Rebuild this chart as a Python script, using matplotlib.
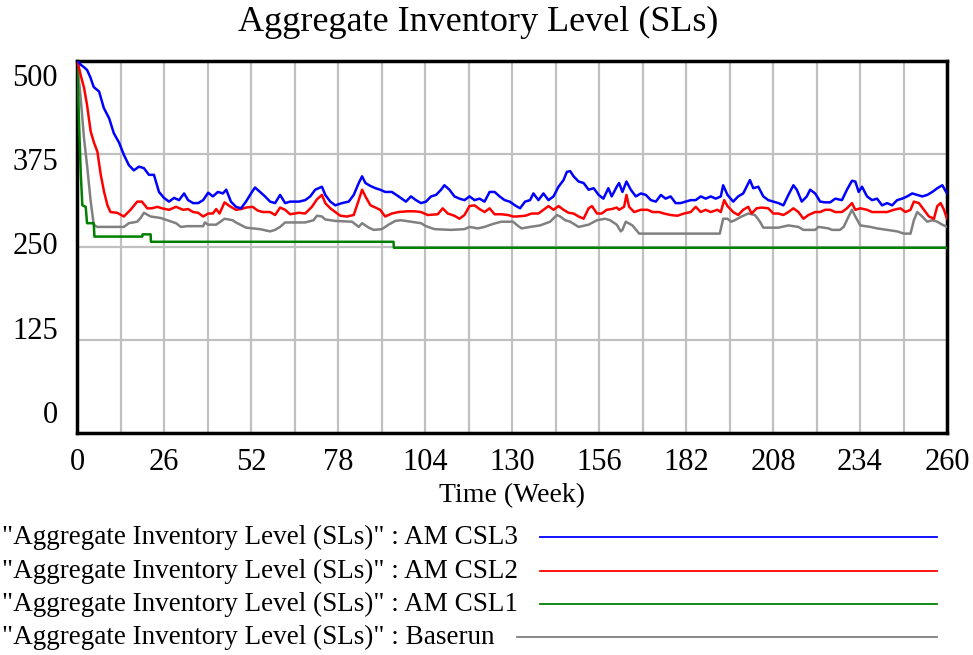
import matplotlib.pyplot as plt
from matplotlib.lines import Line2D

plt.rcParams['font.family'] = ['Liberation Serif', 'DejaVu Serif']

# AM CSL3 (blue)
weeks_csl3 = [0, 1.1, 2, 3, 4, 5, 6.6, 8, 9.6, 11, 12.6, 14, 15.5, 17, 18.5, 20, 21.5, 23, 24.5, 26,
              27.5, 29, 30.5, 32, 33.2, 34.7, 36.2, 37.7, 39.2, 40.6, 42.1, 43.6, 44.6, 46, 47.5, 49,
              50.5, 52, 53.2, 54.7, 56.2, 57.7, 59.2, 60.7, 62.2, 63.7, 66.3, 68.2, 69.7, 71.2, 72.2,
              73.2, 74.2, 75.7, 77.2, 79.2, 81.2, 82.7, 84.2, 85.2, 86.2, 87.7, 89.2, 90.6, 92.1, 94.1,
              96.1, 98.3, 99.8, 101.3, 102.8, 104.3, 105.8, 107.3, 108.8, 109.8, 111.3, 112.8, 114.3,
              115.8, 117.3, 118.8, 120.3, 121.8, 123.3, 124.8, 126.3, 127.8, 129.3, 130.9, 132.4, 133.9,
              135.4, 136.4, 137.9, 139.4, 140.9, 142.4, 143.9, 145.4, 146.4, 147.4, 148.4, 149.9, 151.4,
              152.9, 154.4, 155.9, 157.3, 158.8, 159.8, 161.3, 162, 163, 164.2, 165.5, 167, 168.5, 170,
              171.5, 173, 174.5, 175.9, 177.4, 178.9, 180.4, 181.9, 183.4, 184.9, 186.4, 187.9, 189.4,
              190.9, 192.4, 193.1, 194.4, 196.1, 197.6, 199.1, 200.1, 201.1, 202.1, 203.6, 205.1, 206.6,
              208.1, 209.6, 211.1, 212.6, 214.1, 215.1, 216.6, 218.1, 219.1, 220.6, 222.1, 223.6, 225.1,
              226.6, 228.6, 230.1, 231.6, 232.6, 233.6, 234.6, 236.1, 237.6, 239.1, 240.6, 242.1, 243.6,
              245.1, 246.6, 248.1, 249.6, 251.1, 252.6, 254.1, 255.6, 257.1, 258.6, 260]
inv_csl3 = [502, 495, 492, 488, 478, 465, 459, 437, 423, 403, 390, 374, 360, 353, 358, 356, 347, 347, 324, 316,
            311, 316, 313, 322, 313, 309, 309, 313, 323, 318, 324, 322, 327, 311, 304, 302,
            311, 322, 330, 324, 318, 311, 309, 320, 309, 311, 311, 313, 318, 327, 329,
            331, 320, 311, 306, 309, 311, 320, 336, 345, 336, 332, 329, 327, 324, 324,
            318, 311, 318, 313, 309, 311, 318, 320, 327, 333, 327, 318, 315,
            313, 318, 313, 315, 311, 324, 324, 318, 313, 311, 306, 302, 311,
            313, 322, 313, 322, 313, 318, 331, 340, 351, 352, 345, 338, 336,
            327, 329, 320, 315, 329, 318, 331, 336, 324, 338, 327, 318, 322, 320,
            313, 311, 320, 315, 318, 309, 309, 311, 313, 313, 318, 315, 318,
            315, 318, 333, 320, 311, 318, 322, 331, 340, 329, 331, 318, 313,
            311, 309, 306, 320, 333, 327, 311, 318, 327, 322, 311, 310, 310,
            315, 313, 327, 339, 338, 324, 331, 318, 313, 315, 306, 309, 306,
            313, 315, 318, 322, 320, 318, 320, 324, 329, 333, 322]

# AM CSL2 (red)
weeks_csl2 = [0, 1.1, 2.1, 3, 4.1, 5.1, 6.1, 7.1, 8.1, 9.1, 10, 12, 14, 16, 18, 19.4, 21, 22.4, 24, 25.4,
              27.5, 29.6, 31.7, 33.2, 34.7, 36.2, 37.7, 39.2, 40.6, 41.6, 42.6, 44.1, 45.6, 47.5, 49,
              50.5, 52.5, 54, 55.5, 57.7, 59.2, 60.7, 62.2, 63.7, 66.3, 68.2, 70.2, 71.7, 73.2, 74.2,
              75.7, 77.2, 78.7, 80.7, 82.7, 84.2, 85.2, 86.2, 87.7, 89.2, 90.6, 92.1, 94.1, 96.1, 98.8,
              100.8, 102.8, 104.8, 107.8, 109.3, 110.8, 112.8, 114.3, 115.8, 117.3, 118.8, 120.3, 121.8,
              123.3, 124.8, 126.8, 128.8, 130.3, 131.4, 133.9, 135.9, 137.9, 139.4, 140.9, 142.4, 143.9,
              145.4, 146.9, 148.4, 149.9, 151.4, 152.9, 153.9, 155.4, 156.8, 158.3, 159.8, 161.3, 162,
              163.5, 164.2, 165, 166.5, 168.5, 170.5, 172, 174, 175.4, 177.4, 179.4, 181.4, 183.4, 184.9,
              186.4, 187.9, 189.4, 191.4, 192.4, 193.4, 194.4, 196.1, 197.6, 199.1, 200.6, 201.6, 203.1,
              204.6, 206.6, 208.1, 209.6, 211.1, 212.6, 214.1, 215.6, 217.1, 218.6, 220.6, 222.1, 223.6,
              225.1, 226.6, 228.6, 230.1, 231.6, 232.6, 234.1, 236.1, 237.6, 240.1, 242.1, 244.1, 246.1,
              247.6, 249.1, 250.1, 251.6, 253.1, 254.6, 256.1, 257.1, 258.1, 259.1, 260]
inv_csl2 = [502, 481, 464, 441, 405, 390, 378, 347, 324, 306, 297, 296, 291, 300, 311, 311, 302, 302, 304, 302,
            300, 304, 300, 301, 297, 296, 291, 295, 295, 301, 295, 310, 305, 300, 301,
            303, 304, 299, 297, 297, 293, 303, 300, 294, 296, 295, 304, 314, 320, 309,
            302, 297, 292, 291, 293, 313, 327, 318, 306, 303, 300, 291, 295, 297, 298,
            298, 297, 293, 294, 302, 295, 292, 288, 293, 305, 306, 301, 297,
            302, 294, 294, 293, 291, 291, 292, 295, 295, 300, 305, 300, 305,
            300, 296, 295, 291, 288, 302, 305, 295, 295, 300, 301, 303, 300,
            304, 320, 304, 297, 300, 300, 297, 297, 295, 293, 292, 295, 297, 304,
            297, 300, 297, 300, 297, 313, 305, 297, 293, 300, 304, 295, 302,
            303, 302, 295, 295, 293, 297, 302, 297, 288, 293, 297, 297, 300,
            300, 297, 297, 302, 309, 300, 302, 300, 297, 297, 297, 300, 302,
            297, 300, 311, 309, 300, 291, 288, 305, 309, 300, 288]

# AM CSL1 (green)
weeks_csl1 = [0, 0.6, 1.1, 1.6, 2.6, 3, 5, 5.2, 19.5, 19.6, 22, 22.1, 94.6, 94.7, 260]
inv_csl1 = [502, 418, 351, 306, 304, 282, 282, 264, 264, 267, 267, 257, 257, 249, 249]

# Baserun (gray)
weeks_base = [0, 1.1, 2.1, 3, 4.1, 5, 6, 14, 15.5, 18, 19, 20, 22, 25, 29.6, 31, 33, 37.7, 38.2, 39.2,
              41.6, 44.1, 46.5, 47.5, 50.5, 54.7, 57.7, 59.2, 60.7, 62.2, 66.3, 68.2, 70.7, 71.7, 73.2,
              74.2, 77.2, 82.2, 84.2, 85.2, 87.2, 88.7, 91.1, 93.1, 95.1, 96.8, 99.8, 102.8, 104.3, 106.8,
              111.8, 115.8, 117.3, 119.8, 121.8, 124.3, 126.8, 130.3, 131.9, 132.9, 135.4, 138.4, 141.4,
              143.4, 144.4, 145.9, 147.4, 149.9, 152.9, 155.4, 157.8, 159.3, 161.3, 162.5, 163, 164, 166,
              168, 192.1, 193.1, 194.4, 195.5, 196.6, 198.6, 200.6, 202.6, 204.1, 205.1, 209.6, 212.6,
              215.6, 217.1, 220.6, 221.6, 224.6, 225.6, 228, 229.1, 230.6, 231.6, 232.6, 234.1, 237.1,
              239.1, 242.1, 245.1, 247.1, 249.1, 250.1, 251.1, 252.6, 254.1, 255.6, 257.1, 258.6, 260]
inv_base = [500, 450, 396, 360, 311, 280, 277, 277, 282, 284, 289, 296, 291, 289, 282, 277, 278, 278, 283, 280,
            280, 288, 286, 283, 276, 274, 271, 273, 277, 283, 283, 283, 286, 292, 291,
            287, 285, 284, 277, 282, 276, 273, 274, 280, 285, 286, 284, 282, 278, 274,
            273, 274, 277, 275, 277, 281, 284, 284, 278, 275, 277, 279, 284,
            293, 291, 286, 284, 277, 280, 286, 288, 286, 280, 271, 273, 284, 279,
            268, 268, 288, 288, 284, 286, 291, 295, 293, 284, 276, 276, 279,
            277, 273, 273, 277, 275, 273, 273, 277, 291, 300, 291, 279, 277,
            275, 273, 271, 268, 268, 286, 297, 291, 284, 286, 284, 280, 277]

series_labels = ['"Aggregate Inventory Level (SLs)" : AM CSL3',
                 '"Aggregate Inventory Level (SLs)" : AM CSL2',
                 '"Aggregate Inventory Level (SLs)" : AM CSL1',
                 '"Aggregate Inventory Level (SLs)" : Baserun']
series_colors = ['#0000ff', '#ff0000', '#008000', '#808080']

x_ticks = [0, 26, 52, 78, 104, 130, 156, 182, 208, 234, 260]
y_ticks = [0, 125, 250, 375, 500]

fig = plt.figure(figsize=(9.73, 6.55), dpi=100)
ax = fig.add_axes([77 / 973, 1 - 433 / 655, 870 / 973, 372 / 655])

ax.plot(weeks_base, inv_base, color=series_colors[3], lw=1.8, zorder=3)
ax.plot(weeks_csl1, inv_csl1, color=series_colors[2], lw=1.8, zorder=4)
ax.plot(weeks_csl2, inv_csl2, color=series_colors[1], lw=1.8, zorder=5)
ax.plot(weeks_csl3, inv_csl3, color=series_colors[0], lw=1.8, zorder=6)

ax.set_xlim(0, 260)
ax.set_ylim(0, 500)
ax.set_xticks(range(0, 261, 13))
ax.set_yticks(y_ticks)
ax.grid(True, color='#c0c0c0', lw=1.6)
ax.set_axisbelow(True)
ax.tick_params(length=0, labelleft=False, labelbottom=False)
for sp in ax.spines.values():
    sp.set_linewidth(2.5)
    sp.set_color('black')

# tick labels, Vensim-style spacing on the y axis
for t in x_ticks:
    ax.text(t, -0.04, str(t), transform=ax.get_xaxis_transform(), ha='center', va='top', fontsize=22)
for i, t in enumerate(y_ticks):
    ax.text(-0.022, 0.046 + i * 0.227, str(t), transform=ax.transAxes, ha='right', va='center', fontsize=22)

ax.text(0.5, -0.135, 'Time (Week)', transform=ax.transAxes, ha='center', va='top', fontsize=20)
fig.text(478 / 973, 1 - 22 / 655, 'Aggregate Inventory Level (SLs)', ha='center', va='center', fontsize=26)

# legend below the plot
fig.canvas.draw()
renderer = fig.canvas.get_renderer()
legend_y = [537, 571, 604, 637]
for lab, col, py in zip(series_labels, series_colors, legend_y):
    t = fig.text(2 / 973, 1 - py / 655, lab, ha='left', va='center', fontsize=19.5)
    bb = t.get_window_extent(renderer)
    x0 = bb.x1 + 22
    fig.add_artist(Line2D([x0 / 973, 937 / 973], [1 - py / 655, 1 - py / 655],
                          transform=fig.transFigure, color=col, lw=1.3))

fig.savefig('out.png', dpi=100)
